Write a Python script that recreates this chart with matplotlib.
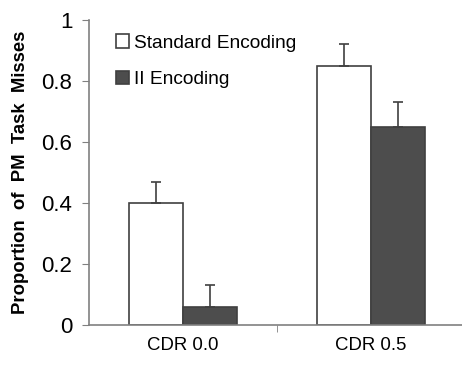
import matplotlib.pyplot as plt
import numpy as np

plt.rcParams['font.family'] = ['Liberation Sans', 'DejaVu Sans']

groups = ['CDR 0.0', 'CDR 0.5']
standard = [0.40, 0.85]
standard_err = [0.07, 0.07]
ii = [0.06, 0.65]
ii_err = [0.07, 0.08]

fig = plt.figure(figsize=(4.62, 3.65), dpi=100)
ax = fig.add_axes([89 / 462, 40 / 365, 376 / 462, 305 / 365])

x = np.arange(len(groups))
w = 0.287
edge = '#404040'
b1 = ax.bar(x - w / 2, standard, w, color='white', edgecolor=edge, linewidth=1.2,
            yerr=[np.zeros(2), standard_err], error_kw=dict(ecolor=edge, elinewidth=1.2, capsize=3.6, capthick=1.2),
            label='Standard Encoding')
b2 = ax.bar(x + w / 2, ii, w, color='#4d4d4d', edgecolor=edge, linewidth=1.2,
            yerr=[np.zeros(2), ii_err], error_kw=dict(ecolor=edge, elinewidth=1.2, capsize=3.6, capthick=1.2),
            label='II Encoding')

ax.set_xlim(-0.5, 1.5)
ax.set_ylim(0, 1)
ax.set_yticks([0, 0.2, 0.4, 0.6, 0.8, 1])
ax.set_yticklabels(['0', '0.2', '0.4', '0.6', '0.8', '1'])
ax.set_xticks(x)
ax.set_xticklabels(groups)
ax.set_xticks([0.5], minor=True)
ax.tick_params(axis='x', which='major', length=0, pad=9, labelsize=13.4)
ax.tick_params(axis='x', which='minor', length=5, color='#808080', direction='out')
ax.tick_params(axis='y', length=5, color='#808080', labelsize=16, pad=7)

for s in ['top', 'right']:
    ax.spines[s].set_visible(False)
ax.spines['left'].set_color('#808080')
ax.spines['bottom'].set_color('#808080')
ax.spines['left'].set_linewidth(1.2)
ax.spines['bottom'].set_linewidth(1.2)

# wide word spacing like the original
ax.set_ylabel('Proportion  of  PM  Task  Misses', fontsize=13.3, weight='bold')
ax.yaxis.set_label_coords(-(89 - 29) / 376, (325 - 172) / 305)

ax.legend(handles=[b1, b2], loc='upper left', bbox_to_anchor=(0.025, 1.01), frameon=False,
          fontsize=13.8, handlelength=0.7, handleheight=0.7, handletextpad=0.25, labelspacing=1.0)

plt.savefig('out.png', dpi=100)
